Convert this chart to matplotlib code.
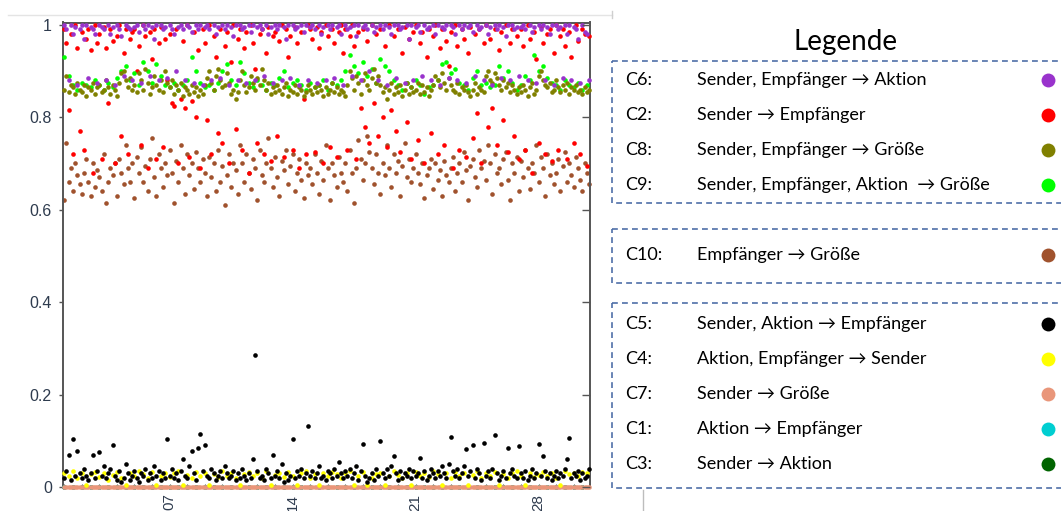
import numpy as np
import matplotlib
matplotlib.use('Agg')
import matplotlib.pyplot as plt
from matplotlib.patches import Rectangle

# values per series (8 per day for dense ones, 4 per day for the sparse ones)
c6_vals = [
    1.0, 0.99, 0.88, 1.0, 0.98, 0.995, 0.87, 0.99, 1.0, 0.97, 1.0, 0.885, 0.995, 0.99, 0.98, 0.875,
    1.0, 0.995, 0.99, 0.88, 1.0, 0.98, 0.995, 0.87, 1.0, 0.99, 0.975, 0.89, 1.0, 0.995, 0.99, 0.88,
    0.995, 1.0, 0.985, 0.875, 1.0, 0.99, 1.0, 0.89, 0.995, 0.97, 1.0, 0.88, 1.0, 0.99, 0.995, 0.885,
    1.0, 0.99, 0.98, 0.9, 0.995, 1.0, 0.99, 0.88, 1.0, 0.995, 0.985, 0.875, 1.0, 0.99, 1.0, 0.87,
    0.995, 1.0, 0.99, 0.88, 1.0, 0.98, 0.995, 0.885, 1.0, 0.99, 1.0, 0.87, 0.995, 0.975, 1.0, 0.88,
    1.0, 0.99, 0.995, 0.875, 1.0, 0.985, 1.0, 0.88, 0.995, 1.0, 0.99, 0.89, 1.0, 0.98, 0.995, 0.875,
    1.0, 0.99, 1.0, 0.88, 0.995, 0.97, 1.0, 0.885, 1.0, 0.99, 0.995, 0.87, 1.0, 0.985, 1.0, 0.88,
    0.995, 1.0, 0.99, 0.875, 1.0, 0.98, 0.995, 0.88, 1.0, 0.99, 1.0, 0.885, 0.995, 1.0, 0.98, 0.87,
    1.0, 0.99, 0.995, 0.89, 1.0, 0.975, 1.0, 0.88, 0.995, 1.0, 0.99, 0.9, 1.0, 0.985, 0.995, 0.88,
    1.0, 0.99, 1.0, 0.87, 0.995, 0.98, 1.0, 0.885, 1.0, 0.99, 0.995, 0.875, 1.0, 0.97, 1.0, 0.88,
    0.995, 1.0, 0.985, 0.89, 1.0, 0.99, 0.995, 0.88, 1.0, 0.98, 1.0, 0.87, 0.995, 0.99, 1.0, 0.885,
    1.0, 0.995, 0.98, 0.88, 1.0, 0.99, 1.0, 0.875, 0.995, 1.0, 0.985, 0.89, 1.0, 0.99, 0.995, 0.88,
    1.0, 0.98, 0.995, 0.87, 1.0, 0.99, 1.0, 0.885, 0.995, 0.975, 1.0, 0.88, 1.0, 0.99, 0.995, 0.89,
    0.995, 1.0, 0.99, 0.88, 1.0, 0.985, 0.995, 0.875, 1.0, 0.99, 1.0, 0.88, 0.995, 0.98, 1.0, 0.87,
    1.0, 0.99, 0.995, 0.885, 1.0, 0.98, 1.0, 0.88, 0.995, 0.99, 0.97, 0.875, 1.0, 0.985, 0.98, 0.88,
]
c2_vals = [
    0.99, 0.96, 0.815, 0.98, 0.72, 1.0, 0.95, 0.77, 0.985, 0.73, 0.97, 0.99, 0.945, 0.68, 1.0, 0.96,
    0.98, 0.71, 0.995, 0.95, 0.83, 0.99, 0.965, 0.7, 0.975, 1.0, 0.76, 0.94, 0.99, 0.72, 0.97, 0.985,
    0.99, 0.9, 0.955, 0.74, 1.0, 0.975, 0.69, 0.985, 0.925, 0.99, 0.71, 0.96, 0.995, 0.735, 0.97, 0.88,
    0.98, 0.83, 0.825, 0.99, 0.7, 0.84, 0.965, 0.82, 1.0, 0.715, 0.835, 0.985, 0.8, 0.945, 0.69, 0.99,
    0.96, 0.795, 1.0, 0.72, 0.975, 0.93, 0.765, 0.99, 0.745, 0.955, 0.985, 0.7, 0.92, 1.0, 0.775, 0.97,
    0.99, 0.73, 0.95, 0.985, 0.68, 1.0, 0.96, 0.905, 0.745, 0.98, 0.99, 0.72, 0.94, 0.995, 0.705, 0.975,
    0.985, 0.76, 0.965, 1.0, 0.715, 0.99, 0.93, 0.975, 0.73, 0.995, 0.96, 0.69, 0.985, 0.84, 0.72, 1.0,
    0.99, 0.97, 0.725, 0.995, 0.95, 0.985, 0.7, 1.0, 0.975, 0.735, 0.99, 0.96, 0.715, 0.985, 1.0, 0.94,
    0.99, 0.73, 0.975, 1.0, 0.955, 0.71, 0.985, 0.82, 0.99, 0.78, 0.965, 0.745, 1.0, 0.83, 0.98, 0.76,
    0.99, 0.8, 0.955, 0.735, 1.0, 0.815, 0.975, 0.77, 0.99, 0.725, 0.94, 0.995, 0.79, 0.97, 0.71, 0.985,
    1.0, 0.75, 0.96, 0.985, 0.7, 0.93, 0.99, 0.765, 0.975, 1.0, 0.72, 0.95, 0.99, 0.74, 0.965, 0.91,
    0.985, 0.69, 1.0, 0.955, 0.73, 0.99, 0.97, 0.715, 0.94, 0.995, 0.755, 0.98, 0.81, 0.99, 0.7, 0.96,
    1.0, 0.78, 0.97, 0.82, 0.99, 0.74, 0.945, 0.985, 0.795, 1.0, 0.725, 0.96, 0.99, 0.76, 0.975, 0.71,
    0.99, 0.955, 0.73, 1.0, 0.97, 0.68, 0.985, 0.925, 0.745, 0.995, 0.96, 0.72, 0.98, 0.99, 0.705, 0.94,
    1.0, 0.73, 0.975, 0.99, 0.955, 0.71, 0.985, 0.93, 0.745, 1.0, 0.965, 0.72, 0.99, 0.98, 0.695, 0.975,
]
c8_vals = [
    0.86, 0.89, 0.855, 0.87, 0.865, 0.85, 0.875, 0.86, 0.855, 0.87, 0.845, 0.865, 0.86, 0.875, 0.85, 0.865,
    0.87, 0.855, 0.86, 0.88, 0.865, 0.85, 0.87, 0.86, 0.845, 0.875, 0.895, 0.9, 0.88, 0.865, 0.885, 0.86,
    0.87, 0.855, 0.895, 0.88, 0.86, 0.905, 0.875, 0.85, 0.865, 0.89, 0.87, 0.86, 0.88, 0.855, 0.9, 0.875,
    0.865, 0.88, 0.85, 0.87, 0.86, 0.875, 0.845, 0.865, 0.86, 0.85, 0.87, 0.855, 0.865, 0.845, 0.86, 0.85,
    0.87, 0.885, 0.9, 0.875, 0.86, 0.89, 0.905, 0.88, 0.865, 0.87, 0.895, 0.875, 0.85, 0.86, 0.84, 0.855,
    0.88, 0.9, 0.87, 0.855, 0.865, 0.89, 0.875, 0.86, 0.885, 0.87, 0.905, 0.88, 0.86, 0.875, 0.85, 0.865,
    0.855, 0.87, 0.86, 0.85, 0.865, 0.875, 0.845, 0.86, 0.855, 0.87, 0.85, 0.865, 0.86, 0.845, 0.855, 0.87,
    0.86, 0.85, 0.865, 0.855, 0.87, 0.86, 0.845, 0.865, 0.85, 0.86, 0.875, 0.855, 0.865, 0.85, 0.86, 0.855,
    0.845, 0.87, 0.9, 0.885, 0.86, 0.89, 0.875, 0.85, 0.88, 0.895, 0.87, 0.86, 0.885, 0.905, 0.875, 0.89,
    0.87, 0.855, 0.865, 0.84, 0.86, 0.875, 0.85, 0.865, 0.855, 0.87, 0.845, 0.86, 0.875, 0.85, 0.865, 0.855,
    0.86, 0.875, 0.85, 0.87, 0.855, 0.865, 0.845, 0.86, 0.87, 0.89, 0.88, 0.865, 0.895, 0.875, 0.86, 0.885,
    0.87, 0.86, 0.855, 0.875, 0.85, 0.865, 0.86, 0.87, 0.855, 0.845, 0.86, 0.875, 0.85, 0.865, 0.86, 0.855,
    0.89, 0.9, 0.88, 0.875, 0.895, 0.885, 0.87, 0.86, 0.88, 0.865, 0.875, 0.855, 0.87, 0.86, 0.85, 0.865,
    0.855, 0.87, 0.86, 0.845, 0.865, 0.875, 0.85, 0.86, 0.89, 0.9, 0.88, 0.87, 0.865, 0.875, 0.855, 0.86,
    0.88, 0.865, 0.855, 0.87, 0.86, 0.875, 0.85, 0.865, 0.86, 0.87, 0.855, 0.86, 0.85, 0.865, 0.855, 0.86,
]
c9_vals = [
    0.93, 0.89, 0.87, 0.86, 0.875, 0.87, 0.865, 0.88, 0.87, 0.86, 0.875, 0.865,
    0.885, 0.9, 0.91, 0.88, 0.895, 0.87, 0.92, 0.9, 0.875, 0.915, 0.89, 0.87,
    0.865, 0.875, 0.86, 0.87, 0.88, 0.93, 0.9, 0.875, 0.865, 0.87, 0.86, 0.875,
    0.9, 0.915, 0.88, 0.87, 0.92, 0.895, 0.875, 0.865, 0.88, 0.87, 0.86, 0.875,
    0.87, 0.885, 0.9, 0.865, 0.875, 0.88, 0.87, 0.86, 0.875, 0.865, 0.87, 0.88,
    0.86, 0.875, 0.87, 0.88, 0.9, 0.935, 0.91, 0.895, 0.92, 0.89, 0.905, 0.875,
    0.925, 0.91, 0.9, 0.88, 0.87, 0.86, 0.875, 0.865, 0.88, 0.87, 0.85, 0.865,
    0.87, 0.88, 0.915, 0.92, 0.895, 0.905, 0.875, 0.87, 0.86, 0.885, 0.9, 0.87,
    0.875, 0.865, 0.87, 0.91, 0.885, 0.9, 0.875, 0.86, 0.87, 0.89, 0.88, 0.935,
    0.9, 0.91, 0.885, 0.875, 0.87, 0.86, 0.88, 0.87, 0.865, 0.875, 0.86, 0.87,
]
c10_vals = [
    0.62, 0.745, 0.66, 0.69, 0.64, 0.7, 0.675, 0.655, 0.635, 0.68, 0.71, 0.66, 0.63, 0.7, 0.65, 0.685,
    0.67, 0.64, 0.72, 0.615, 0.66, 0.69, 0.675, 0.7, 0.63, 0.71, 0.68, 0.655, 0.74, 0.69, 0.66, 0.7,
    0.625, 0.715, 0.68, 0.735, 0.66, 0.695, 0.64, 0.71, 0.755, 0.67, 0.63, 0.72, 0.69, 0.65, 0.7, 0.675,
    0.73, 0.68, 0.615, 0.705, 0.66, 0.74, 0.69, 0.635, 0.72, 0.675, 0.7, 0.645, 0.725, 0.69, 0.66, 0.71,
    0.68, 0.63, 0.715, 0.67, 0.7, 0.64, 0.73, 0.66, 0.695, 0.61, 0.675, 0.72, 0.65, 0.7, 0.685, 0.635,
    0.74, 0.7, 0.66, 0.72, 0.68, 0.645, 0.71, 0.69, 0.62, 0.73, 0.675, 0.66, 0.7, 0.755, 0.69, 0.65,
    0.715, 0.67, 0.63, 0.705, 0.685, 0.73, 0.655, 0.695, 0.72, 0.64, 0.68, 0.71, 0.665, 0.625, 0.7, 0.675,
    0.69, 0.655, 0.72, 0.68, 0.635, 0.705, 0.665, 0.74, 0.69, 0.62, 0.7, 0.675, 0.65, 0.715, 0.68, 0.66,
    0.7, 0.64, 0.73, 0.68, 0.615, 0.69, 0.75, 0.71, 0.665, 0.7, 0.76, 0.725, 0.69, 0.655, 0.72, 0.68,
    0.635, 0.7, 0.675, 0.74, 0.69, 0.65, 0.72, 0.68, 0.705, 0.63, 0.695, 0.745, 0.67, 0.71, 0.66, 0.69,
    0.72, 0.68, 0.655, 0.7, 0.625, 0.675, 0.69, 0.71, 0.645, 0.7, 0.665, 0.685, 0.63, 0.705, 0.675, 0.66,
    0.69, 0.715, 0.64, 0.68, 0.7, 0.66, 0.725, 0.685, 0.62, 0.695, 0.71, 0.67, 0.65, 0.73, 0.69, 0.705,
    0.665, 0.74, 0.7, 0.635, 0.72, 0.68, 0.69, 0.655, 0.71, 0.725, 0.665, 0.62, 0.7, 0.68, 0.715, 0.64,
    0.705, 0.67, 0.73, 0.69, 0.645, 0.7, 0.68, 0.74, 0.66, 0.715, 0.69, 0.63, 0.72, 0.675, 0.7, 0.655,
    0.68, 0.71, 0.64, 0.695, 0.725, 0.66, 0.7, 0.675, 0.65, 0.715, 0.69, 0.665, 0.64, 0.7, 0.68, 0.655,
]
c5_vals = [
    0.02, 0.035, 0.07, 0.015, 0.105, 0.025, 0.077, 0.03, 0.02, 0.04, 0.025, 0.015, 0.03, 0.07, 0.02, 0.035,
    0.075, 0.025, 0.045, 0.02, 0.03, 0.04, 0.09, 0.025, 0.015, 0.035, 0.01, 0.02, 0.05, 0.03, 0.015, 0.025,
    0.035, 0.02, 0.01, 0.03, 0.025, 0.04, 0.015, 0.03, 0.02, 0.045, 0.025, 0.035, 0.015, 0.03, 0.02, 0.105,
    0.025, 0.04, 0.02, 0.03, 0.015, 0.035, 0.06, 0.025, 0.02, 0.045, 0.079, 0.03, 0.015, 0.085, 0.115, 0.035,
    0.09, 0.025, 0.02, 0.04, 0.03, 0.015, 0.025, 0.035, 0.02, 0.045, 0.03, 0.02, 0.025, 0.035, 0.015, 0.03,
    0.02, 0.04, 0.025, 0.015, 0.03, 0.02, 0.06, 0.285, 0.035, 0.02, 0.025, 0.015, 0.04, 0.03, 0.02, 0.07,
    0.025, 0.035, 0.02, 0.05, 0.01, 0.03, 0.015, 0.025, 0.103, 0.02, 0.035, 0.025, 0.04, 0.02, 0.03, 0.133,
    0.025, 0.035, 0.02, 0.03, 0.045, 0.02, 0.025, 0.015, 0.035, 0.03, 0.02, 0.04, 0.025, 0.055, 0.03, 0.02,
    0.035, 0.025, 0.04, 0.02, 0.03, 0.045, 0.015, 0.035, 0.094, 0.025, 0.01, 0.02, 0.03, 0.015, 0.04, 0.025,
    0.1, 0.03, 0.02, 0.04, 0.025, 0.045, 0.068, 0.03, 0.015, 0.035, 0.02, 0.03, 0.025, 0.04, 0.02, 0.035,
    0.025, 0.03, 0.062, 0.02, 0.035, 0.015, 0.025, 0.04, 0.03, 0.02, 0.035, 0.025, 0.045, 0.03, 0.02, 0.05,
    0.109, 0.035, 0.025, 0.04, 0.02, 0.03, 0.045, 0.083, 0.025, 0.035, 0.092, 0.02, 0.04, 0.03, 0.015, 0.096,
    0.025, 0.035, 0.02, 0.04, 0.113, 0.03, 0.015, 0.025, 0.035, 0.02, 0.085, 0.03, 0.04, 0.025, 0.02, 0.089,
    0.03, 0.02, 0.035, 0.015, 0.025, 0.04, 0.02, 0.03, 0.094, 0.025, 0.068, 0.035, 0.02, 0.03, 0.015, 0.025,
    0.035, 0.02, 0.03, 0.025, 0.04, 0.06, 0.107, 0.02, 0.03, 0.025, 0.035, 0.015, 0.03, 0.02, 0.025, 0.04,
]
c4_vals = [
    0.03, 0.025, 0.035, 0.02, 0.03, 0.005, 0.028, 0.033, 0.022, 0.03, 0.015, 0.027,
    0.032, 0.02, 0.005, 0.03, 0.025, 0.035, 0.028, 0.02, 0.033, 0.005, 0.025, 0.03,
    0.022, 0.03, 0.035, 0.005, 0.027, 0.02, 0.032, 0.025, 0.03, 0.005, 0.028, 0.022,
    0.035, 0.025, 0.03, 0.02, 0.005, 0.028, 0.033, 0.025, 0.03, 0.02, 0.035, 0.005,
    0.027, 0.03, 0.022, 0.032, 0.025, 0.005, 0.03, 0.035, 0.02, 0.028, 0.005, 0.03,
    0.025, 0.033, 0.028, 0.02, 0.03, 0.035, 0.005, 0.025, 0.032, 0.005, 0.02, 0.028,
    0.03, 0.005, 0.025, 0.035, 0.027, 0.02, 0.03, 0.005, 0.033, 0.025, 0.03, 0.022,
    0.035, 0.028, 0.005, 0.03, 0.02, 0.032, 0.025, 0.03, 0.005, 0.027, 0.035, 0.02,
    0.03, 0.025, 0.033, 0.005, 0.028, 0.02, 0.03, 0.035, 0.025, 0.005, 0.03, 0.022,
    0.027, 0.033, 0.025, 0.03, 0.02, 0.005, 0.035, 0.028, 0.03, 0.025, 0.032, 0.03,
]
# C7, C1, C3 sit at zero the whole month
c7_vals = [
    0, 0, 0, 0, 0, 0, 0, 0, 0, 0, 0, 0, 0, 0, 0, 0, 0, 0, 0, 0, 0, 0, 0, 0, 0, 0, 0, 0, 0, 0, 0, 0,
    0, 0, 0, 0, 0, 0, 0, 0, 0, 0, 0, 0, 0, 0, 0, 0, 0, 0, 0, 0, 0, 0, 0, 0, 0, 0, 0, 0, 0, 0, 0, 0,
    0, 0, 0, 0, 0, 0, 0, 0, 0, 0, 0, 0, 0, 0, 0, 0, 0, 0, 0, 0, 0, 0, 0, 0, 0, 0, 0, 0, 0, 0, 0, 0,
    0, 0, 0, 0, 0, 0, 0, 0, 0, 0, 0, 0, 0, 0, 0, 0, 0, 0, 0, 0, 0, 0, 0, 0, 0, 0, 0, 0, 0, 0, 0, 0,
    0, 0, 0, 0, 0, 0, 0, 0, 0, 0, 0, 0, 0, 0, 0, 0, 0, 0, 0, 0, 0, 0, 0, 0, 0, 0, 0, 0, 0, 0, 0, 0,
    0, 0, 0, 0, 0, 0, 0, 0, 0, 0, 0, 0, 0, 0, 0, 0, 0, 0, 0, 0, 0, 0, 0, 0, 0, 0, 0, 0, 0, 0, 0, 0,
    0, 0, 0, 0, 0, 0, 0, 0, 0, 0, 0, 0, 0, 0, 0, 0, 0, 0, 0, 0, 0, 0, 0, 0, 0, 0, 0, 0, 0, 0, 0, 0,
    0, 0, 0, 0, 0, 0, 0, 0, 0, 0, 0, 0, 0, 0, 0, 0,
]
c1_vals = [
    0, 0, 0, 0, 0, 0, 0, 0, 0, 0, 0, 0, 0, 0, 0, 0, 0, 0, 0, 0, 0, 0, 0, 0, 0, 0, 0, 0, 0, 0,
    0, 0, 0, 0, 0, 0, 0, 0, 0, 0, 0, 0, 0, 0, 0, 0, 0, 0, 0, 0, 0, 0, 0, 0, 0, 0, 0, 0, 0, 0,
]
c3_vals = [
    0, 0, 0, 0, 0, 0, 0, 0, 0, 0, 0, 0, 0, 0, 0, 0, 0, 0, 0, 0, 0, 0, 0, 0, 0, 0, 0, 0, 0, 0,
    0, 0, 0, 0, 0, 0, 0, 0, 0, 0, 0, 0, 0, 0, 0, 0, 0, 0, 0, 0, 0, 0, 0, 0, 0, 0, 0, 0, 0, 0,
]

day_ticks = [7, 14, 21, 28]
day_labels = ['07', '14', '21', '28']
y_ticks = [0, 0.2, 0.4, 0.6, 0.8, 1]
y_labels = ['0', '0.2', '0.4', '0.6', '0.8', '1']

# legend rows: code, description, colour
group1 = [('C6:', 'Sender, Empfänger \u2192 Aktion', '#9933cc'),
          ('C2:', 'Sender \u2192 Empfänger', '#ff0000'),
          ('C8:', 'Sender, Empfänger \u2192 Größe', '#808000'),
          ('C9:', 'Sender, Empfänger, Aktion  \u2192 Größe', '#00ff00')]
group2 = [('C10:', 'Empfänger \u2192 Größe', '#a0522d')]
group3 = [('C5:', 'Sender, Aktion \u2192 Empfänger', '#000000'),
          ('C4:', 'Aktion, Empfänger \u2192 Sender', '#ffff00'),
          ('C7:', 'Sender \u2192 Größe', '#e9967a'),
          ('C1:', 'Aktion \u2192 Empfänger', '#00ced1'),
          ('C3:', 'Sender \u2192 Aktion', '#006400')]
colors = dict((c[0], c[2]) for c in group1 + group2 + group3)


def days(vals):
    # evenly spread samples over the month, starting at day 1
    n = len(vals)
    return 1 + np.arange(n) * 30.0 / n


fig = plt.figure(figsize=(10.61, 5.11), dpi=100)

# scatter panel
ax = fig.add_axes([63/1061, 1 - 488/511, 527/1061, 465.5/511])
dot = 11
for vals, key, z in [(c3_vals, 'C3:', 3), (c1_vals, 'C1:', 3), (c7_vals, 'C7:', 3),
                     (c4_vals, 'C4:', 4), (c5_vals, 'C5:', 5),
                     (c10_vals, 'C10:', 2), (c2_vals, 'C2:', 3), (c9_vals, 'C9:', 4),
                     (c8_vals, 'C8:', 5), (c6_vals, 'C6:', 6)]:
    ax.scatter(days(vals), vals, s=dot, c=colors[key], linewidths=0, zorder=z, clip_on=False)

ax.set_xlim(0.93, 30.93)
ax.set_ylim(-0.002, 1.005)
ax.set_xticks(day_ticks)
ax.set_xticklabels(day_labels, rotation=90, fontsize=11, color='#2e3b4e', family='Liberation Sans')
ax.set_xticks(np.arange(1, 31), minor=True)
ax.tick_params(axis='x', which='both', direction='in', length=3, width=0.8, color='#555555', pad=4)
ax.set_yticks(y_ticks)
ax.set_yticklabels(y_labels, fontsize=11.5, color='#2e3b4e', family='Liberation Sans')
ax.tick_params(axis='y', direction='out', length=3, width=1, color='#555555', pad=5)
for s in ax.spines.values():
    s.set_color('#555555')
    s.set_linewidth(1.4)

# mirrored ticks on the right side, pointing inwards
ax2 = ax.twinx()
ax2.set_ylim(-0.002, 1.005)
ax2.set_yticks(y_ticks)
ax2.tick_params(axis='y', direction='in', length=6, width=1, color='#555555', labelright=False)
for s in ax2.spines.values():
    s.set_visible(False)

# overlay in pixel coordinates for the legend panel
lax = fig.add_axes([0, 0, 1, 1], zorder=10)
lax.set_xlim(0, 1061)
lax.set_ylim(511, 0)
lax.axis('off')
lax.patch.set_alpha(0)

# faint screenshot lines
lax.plot([8, 612], [15, 15], color='#e4e4e4', lw=1)
lax.plot([612, 612], [11, 18], color='#cfcfcf', lw=1)
lax.plot([643, 643], [490, 511], color='#bdbdbd', lw=1)

fam = ['Lato', 'DejaVu Sans']
lax.text(846, 42, 'Legende', fontsize=20, ha='center', va='center', family=fam)

boxes = [(61, 203, group1, [80, 115, 150, 185]),
         (229, 283, group2, [255]),
         (303, 488, group3, [324, 359, 394, 429, 464])]
for top, bottom, rows, ys in boxes:
    lax.add_patch(Rectangle((612, top), 470, bottom - top, fill=False, ec='#4f6fa8',
                            lw=1.2, ls=(0, (3.5, 2.5)), clip_on=True))
    for (code, desc, col), y in zip(rows, ys):
        lax.text(625, y, code, fontsize=13, va='center', family=fam)
        lax.text(697, y, desc, fontsize=13, va='center', family=fam)
        lax.scatter([1048], [y], s=100, c=col, linewidths=0)

fig.savefig('out.png', dpi=100)
